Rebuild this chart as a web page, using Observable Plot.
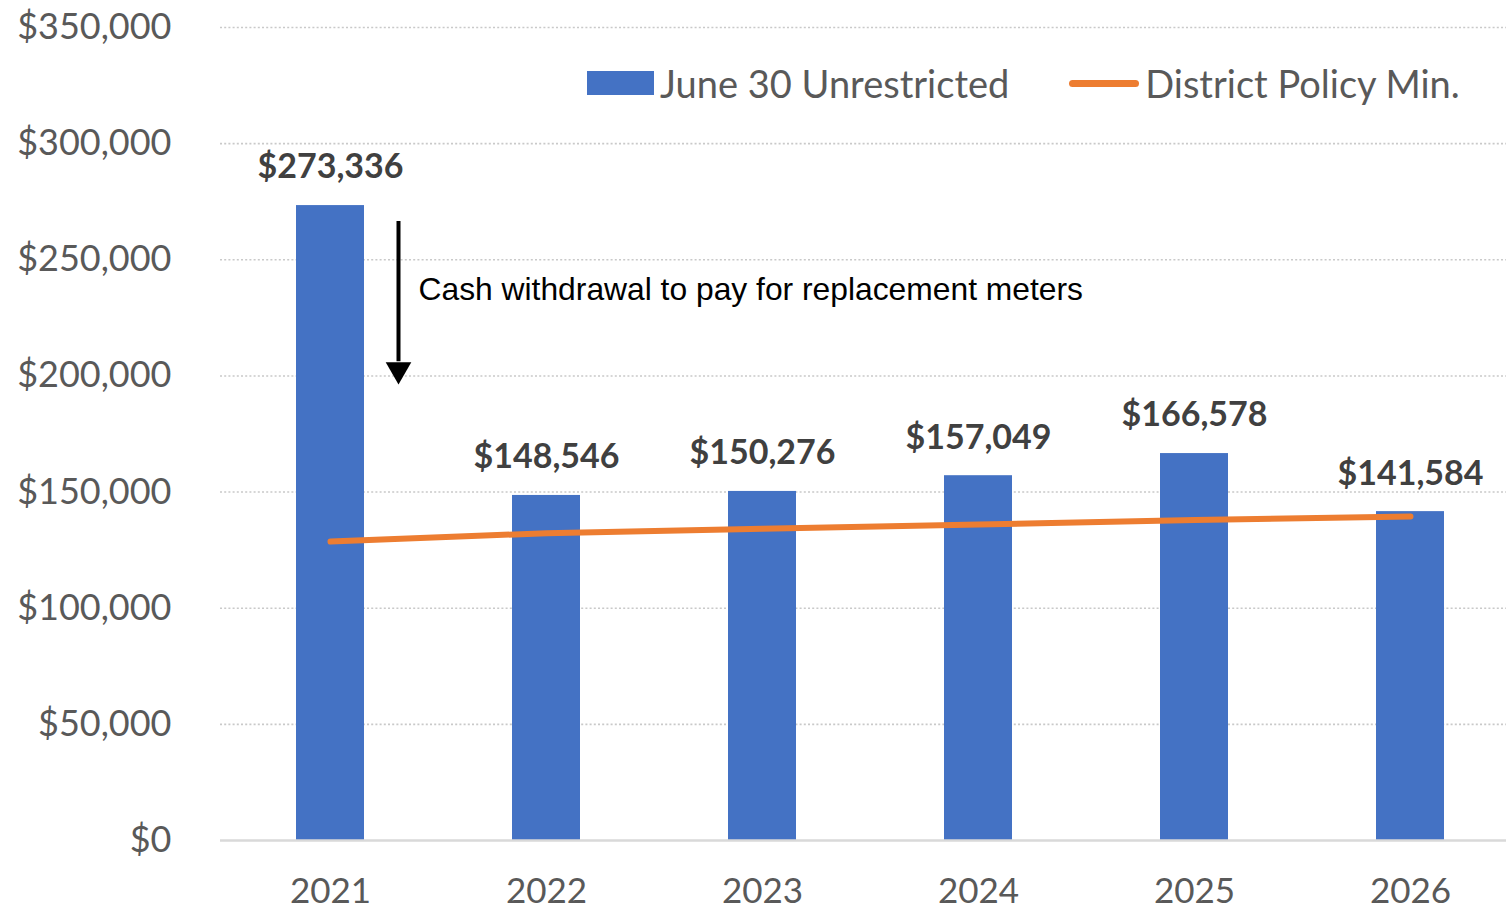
<!DOCTYPE html>
<html>
<head>
<meta charset="utf-8">
<script src="https://cdn.jsdelivr.net/npm/d3@7"></script>
<script src="https://cdn.jsdelivr.net/npm/@observablehq/plot@0.6"></script>
<style>
  html, body { margin: 0; padding: 0; background: #fff; }
  #wrap { position: relative; width: 1506px; height: 910px; overflow: hidden; }
  #legend { position: absolute; top: 60px; left: 587px; display: flex; align-items: center;
    font-family: Lato, "Open Sans", sans-serif; font-size: 38px; color: #595959; }
  .sw-bar { width: 67px; height: 24px; background: #4472C4; margin-right: 6px; }
  .sw-line { width: 70px; height: 7px; border-radius: 4px; background: #ED7D31; margin-right: 6px; margin-left: 60px; }
</style>
</head>
<body>
<div id="wrap">
  <div id="chart"></div>
  <div id="legend">
    <div class="sw-bar"></div><span id="lg1"></span>
    <div class="sw-line"></div><span id="lg2"></span>
  </div>
</div>
<script>
const years = ["2021", "2022", "2023", "2024", "2025", "2026"];
const unrestricted = [273336, 148546, 150276, 157049, 166578, 141584];
const policyMin = [128700, 132300, 134200, 136000, 138000, 139500];
const yTicks = [0, 50000, 100000, 150000, 200000, 250000, 300000, 350000];
const seriesNames = ["June 30 Unrestricted", "District Policy Min."];
const annotationText = "Cash withdrawal to pay for replacement meters";
const arrowFrom = 266500, arrowTo = 197100, annotationY = 237200;

document.getElementById("lg1").textContent = seriesNames[0];
document.getElementById("lg2").textContent = seriesNames[1];

const barData = years.map((y, i) => ({year: y, value: unrestricted[i]}));
const lineData = years.map((y, i) => ({year: y, value: policyMin[i]}));
const money = d => "$" + d3.format(",")(d);

const chart = Plot.plot({
  width: 1506,
  height: 910,
  marginTop: 27,
  marginBottom: 70,
  marginLeft: 220,
  marginRight: 0,
  style: {background: "transparent", overflow: "visible"},
  x: {type: "band", domain: years, range: [219.5, 1519.5], paddingInner: 0.686, paddingOuter: 0.343},
  y: {domain: [0, 350000]},
  marks: [
    Plot.ruleY(yTicks.filter(d => d > 0), {stroke: "#c9c9c9", strokeWidth: 1.6, strokeDasharray: "2,2.2"}),
    Plot.barY(barData, {x: "year", y: "value", fill: "#4472C4"}),
    Plot.ruleY([0], {stroke: "#d9d9d9", strokeWidth: 2.5}),
    Plot.line(lineData, {x: "year", y: "value", stroke: "#ED7D31", strokeWidth: 6, strokeLinecap: "round"}),
    Plot.text(barData, {x: "year", y: "value", text: d => money(d.value), dy: -38,
      fontFamily: "Lato, 'Open Sans', sans-serif", fontWeight: "bold", fontSize: 34, fill: "#404040"}),
    Plot.ruleX([years[0]], {y1: arrowFrom, y2: arrowTo + 9000, dx: 68, stroke: "#000", strokeWidth: 4}),
    Plot.dot([years[0]], {x: d => d, y: arrowTo, dx: 68, dy: -13, symbol: "triangle", r: 9.5, rotate: 180, fill: "#000", stroke: null}),
    Plot.text([annotationText], {x: () => years[0], y: annotationY, text: d => d, dx: 88, textAnchor: "start",
      fontFamily: "'Liberation Sans', Arial, sans-serif", fontSize: 31.8, fill: "#000"}),
    Plot.axisY({ticks: yTicks, tickFormat: money, tickSize: 0, tickPadding: 49,
      fontFamily: "Lato, 'Open Sans', sans-serif", fontSize: 36, fill: "#595959", label: null}),
    Plot.axisX({tickSize: 0, tickPadding: 38, fontFamily: "Lato, 'Open Sans', sans-serif", fontSize: 35, fill: "#595959", label: null})
  ]
});
document.getElementById("chart").appendChild(chart);
</script>
</body>
</html>
